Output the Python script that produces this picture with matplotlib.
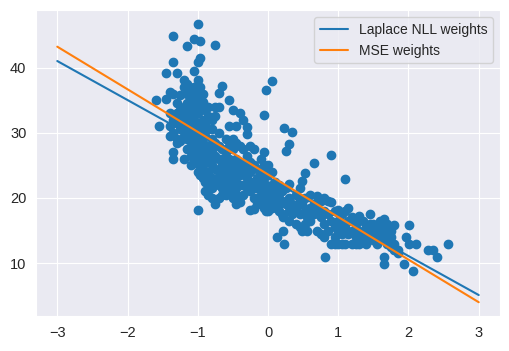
import matplotlib
matplotlib.use("Agg")
import matplotlib.pyplot as plt
import seaborn as sns
import numpy as np

# scatter data, grouped by column: x value and the y values read at that x
col_x = [-1.6, -1.55, -1.45, -1.4, -1.35, -1.3, -1.25, -1.2, -1.15, -1.1,
         -1.05, -1.0, -0.97, -0.93, -0.9, -0.85, -0.8, -0.75, -0.7, -0.65,
         -0.6, -0.55, -0.5, -0.45, -0.4, -0.35, -0.3, -0.25, -0.2, -0.15,
         -0.1, -0.06, -0.03, 0.0, 0.05, 0.1, 0.13, 0.15, 0.2, 0.22,
         0.23, 0.26, 0.3, 0.34, 0.4, 0.45, 0.48, 0.53, 0.55, 0.6,
         0.65, 0.7, 0.75, 0.8, 0.81, 0.85, 0.9, 0.95, 1.0, 1.05,
         1.1, 1.14, 1.2, 1.25, 1.3, 1.35, 1.4, 1.45, 1.5, 1.55,
         1.6, 1.65, 1.7, 1.75, 1.8, 1.85, 1.94, 1.97, 2.01, 2.07,
         2.1, 2.28, 2.35, 2.41, 2.56]
col_y = [
    [35.0], [31.0], [39.1, 35.1], [36.3, 33.1, 31.0, 29.5],
    [44.8, 40.9, 36.0, 32.0, 30.0, 27.1, 26.0],
    [39.1, 34.5, 33.0, 31.5, 29.0, 28.5],
    [35.8, 33.5, 32.0, 30.5, 28.8],
    [38.1, 37.0, 34.0, 33.2, 32.5, 31.0, 29.5, 26.0],
    [43.3, 37.5, 36.0, 34.5, 33.0, 31.5, 30.0, 29.0, 27.5],
    [36.5, 35.0, 33.5, 32.0, 30.8, 29.2, 28.0, 26.5, 25.0],
    [44.4, 39.4, 37.0, 35.5, 34.0, 32.5, 31.0, 30.0, 28.5, 27.0, 25.5],
    [46.7, 40.9, 38.1, 36.0, 34.5, 33.0, 31.5, 30.0, 29.0, 28.0, 26.5, 25.2, 24.0, 18.1],
    [44.1, 41.5, 37.0, 35.0, 33.5, 31.0, 29.0, 27.5, 25.0, 23.5],
    [36.0, 34.7, 32.0, 30.5, 29.5, 28.5, 27.2, 26.0, 24.5, 23.0],
    [33.5, 31.5, 29.5, 28.0, 27.5, 26.5, 25.5, 24.0, 22.5, 21.0],
    [34.0, 32.5, 30.5, 28.0, 26.5, 25.5, 24.0, 22.0, 20.5],
    [32.0, 30.5, 29.0, 27.0, 26.0, 25.0, 23.0, 21.5, 20.0],
    [43.5, 34.0, 32.5, 28.5, 26.5, 24.5, 22.5, 19.0],
    [36.1, 34.0, 30.0, 28.0, 26.0, 24.0, 23.0, 22.0, 20.0],
    [37.1, 27.5, 26.0, 25.0, 23.0, 21.5, 20.5],
    [29.0, 27.0, 25.5, 24.0, 23.0, 22.0, 20.5],
    [35.0, 31.0, 28.0, 26.0, 24.5, 23.0, 22.0, 21.0],
    [33.5, 29.0, 27.5, 25.0, 24.0, 23.0, 21.5, 20.0],
    [31.0, 28.5, 26.0, 24.0, 22.5, 21.5, 20.5, 19.0],
    [33.0, 28.0, 25.5, 24.5, 23.5, 22.0, 19.4],
    [32.0, 27.5, 25.0, 24.0, 22.0, 20.5],
    [30.9, 29.8, 26.5, 25.0, 24.0, 23.0, 21.5],
    [28.0, 25.5, 24.0, 22.5, 21.0, 18.1],
    [27.5, 25.0, 22.5, 21.5, 20.0, 18.3],
    [24.5, 23.0, 21.5, 20.0, 19.0],
    [26.0, 24.0, 22.0, 20.5, 19.0],
    [32.7, 27.0, 25.0, 23.0, 21.0, 20.0, 18.5],
    [36.5, 24.0, 22.0, 21.0, 20.0, 18.0],
    [25.0, 23.5, 21.5, 20.0, 19.0, 18.0],
    [38.0, 24.0, 22.0, 20.5, 19.5, 18.5],
    [22.5, 21.0, 20.0, 19.0],
    [20.5, 18.5, 14.0],
    [22.0, 20.0, 19.0, 18.0],
    [21.0, 19.5, 17.5],
    [17.0, 15.0],
    [30.7, 13.0],
    [27.2, 21.5, 19.0],
    [28.2, 22.2, 20.0, 18.0, 16.5],
    [30.1, 19.0, 17.5],
    [20.5, 18.5, 16.0],
    [21.5, 19.5, 17.5, 15.5],
    [22.6, 19.0, 15.0],
    [23.8, 20.0, 18.0, 16.0],
    [17.0, 15.0],
    [20.5, 18.5, 16.5],
    [25.4, 19.0, 17.5],
    [20.3, 18.0, 15.0],
    [19.5, 17.0, 14.5],
    [20.0, 18.0, 16.0, 14.0],
    [11.0],
    [19.5, 17.5, 15.0],
    [26.6, 19.4, 16.5, 13.0],
    [18.0, 15.5, 14.0, 13.0],
    [18.2, 16.5, 15.0, 13.0],
    [17.5, 16.0, 14.5, 13.0],
    [22.9, 18.0, 15.5, 13.0],
    [18.5, 16.5, 14.5],
    [17.0, 15.0, 13.0],
    [16.0, 14.0, 13.0],
    [17.2, 15.0, 13.0],
    [16.5, 14.5, 13.5],
    [15.5, 14.0, 13.0],
    [17.5, 16.0, 14.5],
    [16.0, 15.0, 13.5],
    [15.5, 14.0, 13.0],
    [16.5, 15.0, 14.0],
    [16.7, 15.5, 13.5, 11.0, 9.9],
    [16.0, 14.5, 13.0],
    [15.0, 14.0, 12.5],
    [15.9, 13.0, 12.0],
    [12.0, 11.5],
    [9.9], [14.0], [15.9, 13.0], [8.8],
    [13.0], [12.0], [12.0], [11.0], [13.0],
]

# fitted lines evaluated at the plot ends
line_x = [-3, 3]
laplace_y = [41.0, 5.1]
mse_y = [43.2, 4.0]

x = np.concatenate([[cx] * len(ys) for cx, ys in zip(col_x, col_y)])
y = np.concatenate(col_y)

sns.set_style("darkgrid")
plt.rcParams["font.family"] = ["Liberation Sans", "DejaVu Sans"]

fig, ax = plt.subplots(figsize=(5.1, 3.51), dpi=100)
fig.subplots_adjust(left=0.071, right=0.98, top=0.971, bottom=0.1)

ax.scatter(x, y, s=36, color="C0")
ax.plot(line_x, laplace_y, color="C0", lw=1.5, label="Laplace NLL weights")
ax.plot(line_x, mse_y, color="C1", lw=1.5, label="MSE weights")

ax.set_xlim(-3.3, 3.3)
ax.set_ylim(1.9, 48.8)
ax.set_yticks([10, 20, 30, 40])
ax.tick_params(labelsize=10.5)
ax.legend(loc="upper right", fontsize=10)

fig.savefig("out.png", dpi=100)
